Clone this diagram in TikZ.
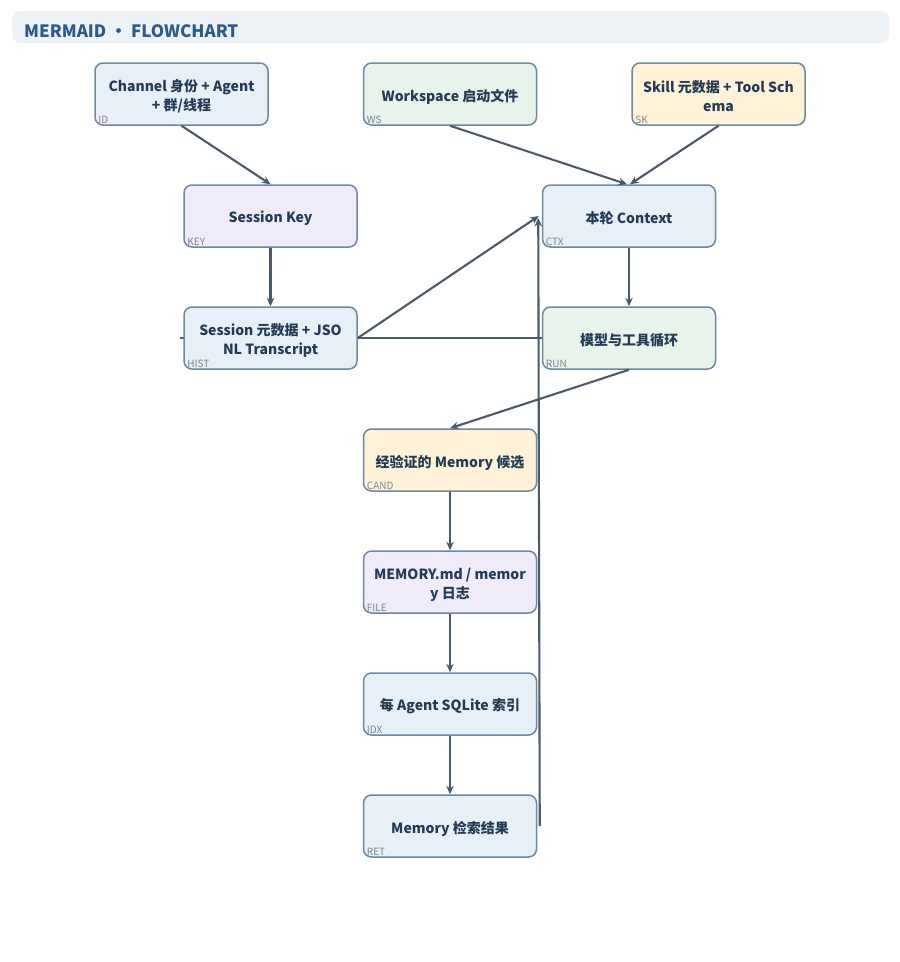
\documentclass[tikz,border=0pt]{standalone}
\usepackage{fontspec}
\setmainfont{Noto Sans CJK SC}
\usetikzlibrary{calc,arrows.meta,backgrounds}
\definecolor{titlebg}{HTML}{EDF2F7}
\definecolor{titlefg}{HTML}{2E5A88}
\definecolor{edgec}{HTML}{6E88A4}
\definecolor{linec}{HTML}{4B5A6B}
\definecolor{txt}{HTML}{243B55}
\definecolor{tagc}{HTML}{7A8694}
\definecolor{fblue}{HTML}{E8F0F7}
\definecolor{fgreen}{HTML}{E8F3EC}
\definecolor{fyellow}{HTML}{FEF3D8}
\definecolor{flav}{HTML}{F0EBF8}
\tikzset{
  box/.style={rectangle, rounded corners=8pt, minimum width=173pt, minimum height=62pt,
    draw=edgec, line width=1.5pt, inner sep=0pt},
  boxtext/.style={text=txt, align=center, inner sep=0pt,
    font=\bfseries\fontsize{14}{19}\selectfont},
  tag/.style={anchor=base west, text=tagc, inner sep=0pt, font=\fontsize{10}{10}\selectfont},
  conn/.style={draw=linec, line width=2.1pt, -{Stealth[length=8.5pt,width=7.5pt]}},
  plain/.style={draw=linec, line width=2.1pt}
}
\newcommand{\mybox}[4]{%
  \node[box, fill=#2] (#1) at #3 {};
  \node[boxtext] (#1-t) at ($(#1.center)+(0,2.5)$) {#4};
  \node[tag] (#1-tag) at ($(#1.south west)+(4,-2)$) {#1};
}
\begin{document}
\begin{tikzpicture}[x=1pt,y=-1pt]
\useasboundingbox (0,0) rectangle (900,962);
\fill[titlebg, rounded corners=8pt] (12,11) rectangle (889,43);
\node[anchor=base west, text=titlefg, inner sep=0pt, font=\bfseries\fontsize{17}{17}\selectfont] (title) at (24,37) {MERMAID · FLOWCHART};

\mybox{ID}{fblue}{(181.5,94)}{Channel 身份 + Agent\\+ 群/线程}
\mybox{WS}{fgreen}{(450,94)}{Workspace 启动文件}
\mybox{SK}{fyellow}{(718.5,94)}{Skill 元数据 + Tool Sch\\ema}
\mybox{KEY}{flav}{(270.5,216)}{Session Key}
\mybox{CTX}{fblue}{(629,216)}{本轮 Context}
\mybox{HIST}{fblue}{(270.5,338)}{Session 元数据 + JSO\\NL Transcript}
\mybox{RUN}{fgreen}{(629,338)}{模型与工具循环}
\mybox{CAND}{fyellow}{(450,460)}{经验证的 Memory 候选}
\mybox{FILE}{flav}{(450,582)}{MEMORY.md / memor\\y 日志}
\mybox{IDX}{fblue}{(450,704)}{每 Agent SQLite 索引}
\mybox{RET}{fblue}{(450,826)}{Memory 检索结果}

\draw[conn] (ID.south) -- (KEY.north);
\draw[conn] (WS.south) -- ($(CTX.north)+(-2,0)$);
\draw[conn] (SK.south) -- ($(CTX.north)+(1,0)$);
\draw[conn] (KEY.south) -- (HIST.north);
\draw[conn] (HIST.east) -- ($(CTX.west)+(-3,0)$);
\draw[conn] (CTX.south) -- (RUN.north);
\begin{pgfonlayer}{background}
\draw[plain] (RUN.west) -- ($(HIST.west)+(-3,0)$);
\end{pgfonlayer}
\draw[conn] (RUN.south) -- (CAND.north);
\draw[conn] (CAND.south) -- (FILE.north);
\draw[conn] (FILE.south) -- (IDX.north);
\draw[conn] (IDX.south) -- (RET.north);
\draw[conn] ($(RET.east)+(2.5,0)$) -- ($(CTX.west)+(-3.5,2)$);
\end{tikzpicture}
\end{document}
